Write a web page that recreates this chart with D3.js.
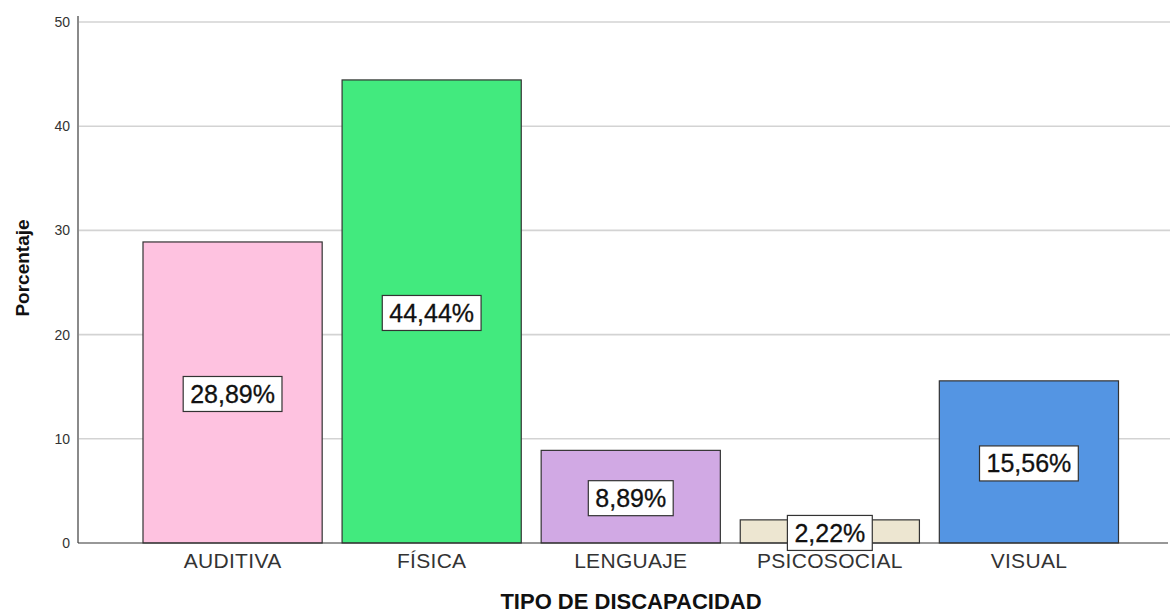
<!DOCTYPE html>
<html><head><meta charset="utf-8">
<script src="https://cdn.jsdelivr.net/npm/d3@7"></script>
<style>body{margin:0;background:#fff}svg{display:block}text{font-family:"Liberation Sans",Arial,sans-serif}</style>
</head><body>
<svg id="c" width="1170" height="613"></svg>
<script>
const categories = ["AUDITIVA","FÍSICA","LENGUAJE","PSICOSOCIAL","VISUAL"];
const values = [28.89, 44.44, 8.89, 2.22, 15.56];
const labels = ["28,89%","44,44%","8,89%","2,22%","15,56%"];
const colors = ["#FEC2E0","#42EA7E","#D1A9E4","#EDE6D1","#5495E3"];
const yTicks = [0,10,20,30,40,50];

(function(){
const svg = d3.select("#c");
const pLeft = 78, pRight = 1170, pTop = 22, pBottom = 543;
const y = d3.scaleLinear().domain([0,50]).range([pBottom, pTop]);
const x = d3.scaleBand().domain(categories).range([143, 1118.5]).paddingInner(0.1).paddingOuter(0);

// gridlines
svg.append("g").selectAll("line").data(yTicks.filter(d=>d>0)).join("line")
  .attr("x1", pLeft).attr("x2", pRight)
  .attr("y1", d=>y(d)).attr("y2", d=>y(d))
  .attr("stroke", "#d3d3d3").attr("stroke-width", 1.6);

// y axis
const yAxis = svg.append("g").attr("transform", `translate(${pLeft},0)`)
  .call(d3.axisLeft(y).tickValues(yTicks).tickSize(0).tickPadding(8));
yAxis.select(".domain").attr("stroke", "#8a8a8a").attr("stroke-width", 2)
  .attr("d", `M0,${pTop-6}V${pBottom}`);
yAxis.selectAll("text").attr("font-size", 14).attr("fill", "#333")
  .attr("font-family", "'Liberation Sans',Arial,sans-serif");

// bars
svg.append("g").selectAll("rect").data(values).join("rect")
  .attr("x", (d,i)=>x(categories[i]))
  .attr("width", x.bandwidth())
  .attr("y", d=>y(d))
  .attr("height", d=>pBottom - y(d))
  .attr("fill", (d,i)=>colors[i])
  .attr("stroke", "#333").attr("stroke-width", 1.2);

// x axis
const xAxis = svg.append("g").attr("transform", `translate(0,${pBottom})`)
  .call(d3.axisBottom(x).tickSize(0).tickPadding(10));
xAxis.select(".domain").attr("stroke", "#333").attr("stroke-width", 1.2)
  .attr("d", `M${pLeft},0H${pRight-2}`);
xAxis.selectAll("text").attr("font-size", 21).attr("fill", "#333")
  .attr("letter-spacing", 0.3)
  .attr("font-family", "'Liberation Sans',Arial,sans-serif");

// value labels
const lg = svg.append("g");
values.forEach((v,i)=>{
  const cx = x(categories[i]) + x.bandwidth()/2;
  const cy = (y(v) + pBottom)/2 + 1.5;
  const g = lg.append("g");
  const r = g.append("rect");
  const t = g.append("text").text(labels[i])
    .attr("x", cx).attr("y", cy).attr("text-anchor","middle")
    .attr("dominant-baseline","central")
    .attr("font-size", 25).attr("fill", "#111")
    .attr("stroke", "#111").attr("stroke-width", 0.3);
  const w = t.node().getComputedTextLength();
  r.attr("x", cx - w/2 - 7).attr("width", w + 14)
   .attr("y", cy - 17.5).attr("height", 35)
   .attr("fill", "#fff").attr("stroke", "#333").attr("stroke-width", 1.2);
});

// axis titles
svg.append("text").text("TIPO DE DISCAPACIDAD")
  .attr("x", 631).attr("y", 609).attr("text-anchor","middle")
  .attr("font-size", 22).attr("font-weight","bold").attr("fill","#111");
svg.append("text").text("Porcentaje")
  .attr("transform","translate(29,268) rotate(-90)").attr("text-anchor","middle")
  .attr("font-size", 19).attr("font-weight","bold").attr("fill","#111");
})();
</script>
</body></html>
